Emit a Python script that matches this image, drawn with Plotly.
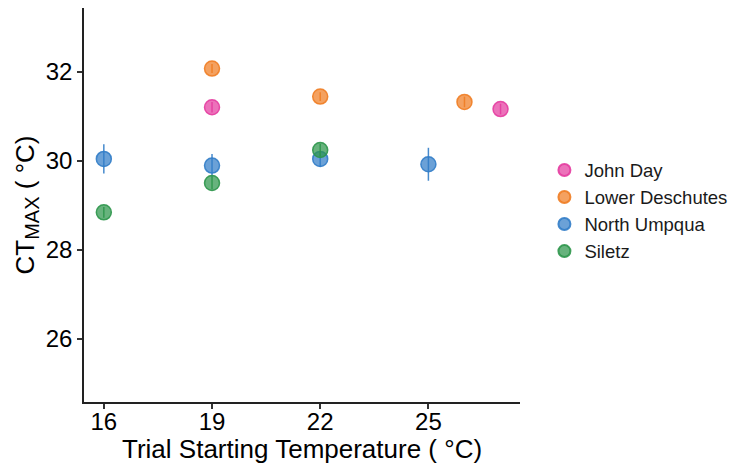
import plotly.graph_objects as go

# Mean CTmax per population at each trial starting temperature
populations = ["John Day", "Lower Deschutes", "North Umpqua", "Siletz"]
fill_colors = ["rgba(228,60,160,0.72)", "rgba(240,125,35,0.72)",
               "rgba(50,125,200,0.72)", "rgba(45,150,75,0.72)"]
line_colors = ["rgba(228,60,160,0.9)", "rgba(240,125,35,0.9)",
               "rgba(50,125,200,0.9)", "rgba(45,150,75,0.9)"]

john_day_x = [19, 27]
john_day_y = [31.20, 31.16]
john_day_err = [0.12, 0.12]

lower_deschutes_x = [19, 22, 26]
lower_deschutes_y = [32.07, 31.44, 31.32]
lower_deschutes_err = [0.10, 0.10, 0.12]

north_umpqua_x = [16, 19, 22, 25]
north_umpqua_y = [30.04, 29.89, 30.04, 29.92]
north_umpqua_err = [0.33, 0.26, 0.18, 0.37]

siletz_x = [16, 19, 22]
siletz_y = [28.84, 29.50, 30.24]
siletz_err = [0.12, 0.14, 0.14]

x_ticks = [16, 19, 22, 25]
y_ticks = [26, 28, 30, 32]

series = [
    (john_day_x, john_day_y, john_day_err),
    (lower_deschutes_x, lower_deschutes_y, lower_deschutes_err),
    (north_umpqua_x, north_umpqua_y, north_umpqua_err),
    (siletz_x, siletz_y, siletz_err),
]

fig = go.Figure()
for name, fc, lc, (xs, ys, es) in zip(populations, fill_colors, line_colors, series):
    fig.add_trace(go.Scatter(
        x=xs, y=ys, name=name, mode="markers",
        marker=dict(size=15, color=fc, line=dict(color=lc, width=1.5)),
        error_y=dict(type="data", array=es, color=lc,
                     thickness=1.5, width=0),
    ))

font_family = "Arial, Liberation Sans, sans-serif"
fig.update_layout(
    width=747, height=466,
    margin=dict(l=84, r=227, t=8, b=64),
    plot_bgcolor="white", paper_bgcolor="white",
    font=dict(family=font_family, color="black"),
    showlegend=True,
    legend=dict(x=1.056, y=0.485, xanchor="left", yanchor="middle",
                font=dict(size=18.5, color="#1a1a1a"),
                tracegroupgap=0, itemsizing="constant"),
    xaxis=dict(
        range=[15.45, 27.54], tickvals=x_ticks, automargin=False,
        ticks="outside", ticklen=5, tickwidth=1.5, tickcolor="#333",
        showline=True, linecolor="#222", linewidth=1.5,
        showgrid=False, zeroline=False,
        tickfont=dict(size=24, color="black"), ticklabelstandoff=-8,
    ),
    yaxis=dict(
        range=[24.58, 33.43], tickvals=y_ticks, automargin=False,
        ticks="outside", ticklen=5, tickwidth=1.5, tickcolor="#333",
        showline=True, linecolor="#222", linewidth=1.5,
        showgrid=False, zeroline=False,
        tickfont=dict(size=24, color="black"),
        title=dict(text="CT<sub><span style='font-size:20px'>MAX</span></sub> ( °C)",
                   font=dict(size=26, color="black"), standoff=4),
    ),
    annotations=[dict(
        text="Trial Starting Temperature ( °C)",
        xref="paper", yref="paper", x=0.5, y=-0.12,
        xanchor="center", yanchor="middle", showarrow=False,
        font=dict(size=26, color="black"),
    )],
)

fig.write_html("out.html")
